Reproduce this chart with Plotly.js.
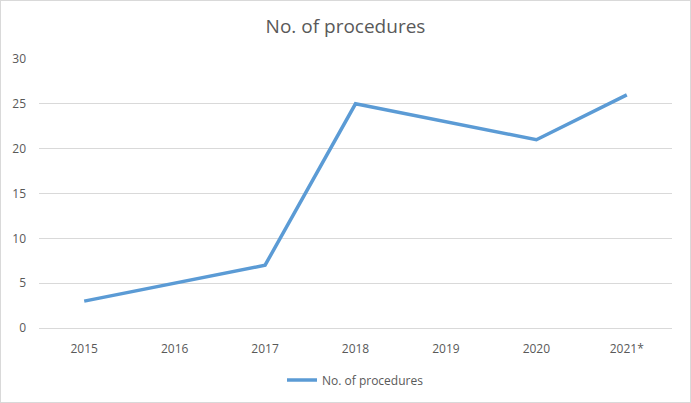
<!DOCTYPE html>
<html>
<head>
<meta charset="utf-8">
<script src="https://cdn.plot.ly/plotly-3.0.1.min.js"></script>
<style>
  body { margin: 0; background: #fff; }
  #chart { width: 689px; height: 401px; border: 1px solid #d9d9d9; }
</style>
</head>
<body>
<div id="chart"></div>
<script>
var years = ['2015', '2016', '2017', '2018', '2019', '2020', '2021*'];
var procedures = [3, 5, 7, 25, 23, 21, 26];
var yTicks = [0, 5, 10, 15, 20, 25, 30];

var textColor = '#595959';
var gridColor = '#d9d9d9';

var trace = {
    type: 'scatter',
    mode: 'lines',
    x: years,
    y: procedures,
    name: 'No. of procedures',
    line: { color: '#5b9bd5', width: 3.5 },
    hoverinfo: 'x+y'
};

var layout = {
    width: 689,
    height: 401,
    margin: { l: 38, r: 18, t: 58, b: 74 },
    paper_bgcolor: '#fff',
    plot_bgcolor: '#fff',
    font: { family: 'Open Sans, Noto Sans, sans-serif', size: 12, color: textColor },
    title: {
        text: 'No. of procedures',
        font: { size: 19, color: textColor },
        x: 0.5,
        xanchor: 'center',
        y: 0.937,
        yanchor: 'middle'
    },
    xaxis: {
        type: 'category',
        tickvals: years,
        showgrid: false,
        zeroline: false,
        showline: false,
        ticks: '',
        ticklabelstandoff: 12,
        tickfont: { size: 12, color: textColor },
        range: [-0.5, years.length - 0.5]
    },
    yaxis: {
        range: [0, 30],
        tickvals: yTicks,
        showgrid: true,
        gridcolor: gridColor,
        gridwidth: 1,
        zeroline: true,
        zerolinecolor: gridColor,
        zerolinewidth: 1,
        showline: false,
        ticks: '',
        ticklabelstandoff: 12,
        tickfont: { size: 12, color: textColor }
    },
    showlegend: true,
    legend: {
        orientation: 'h',
        x: 0.5,
        xanchor: 'center',
        yref: 'container',
        y: 0.055,
        yanchor: 'middle',
        font: { size: 12, color: textColor }
    }
};

var config = { displayModeBar: false, staticPlot: true };

Plotly.newPlot('chart', [trace], layout, config);
</script>
</body>
</html>
